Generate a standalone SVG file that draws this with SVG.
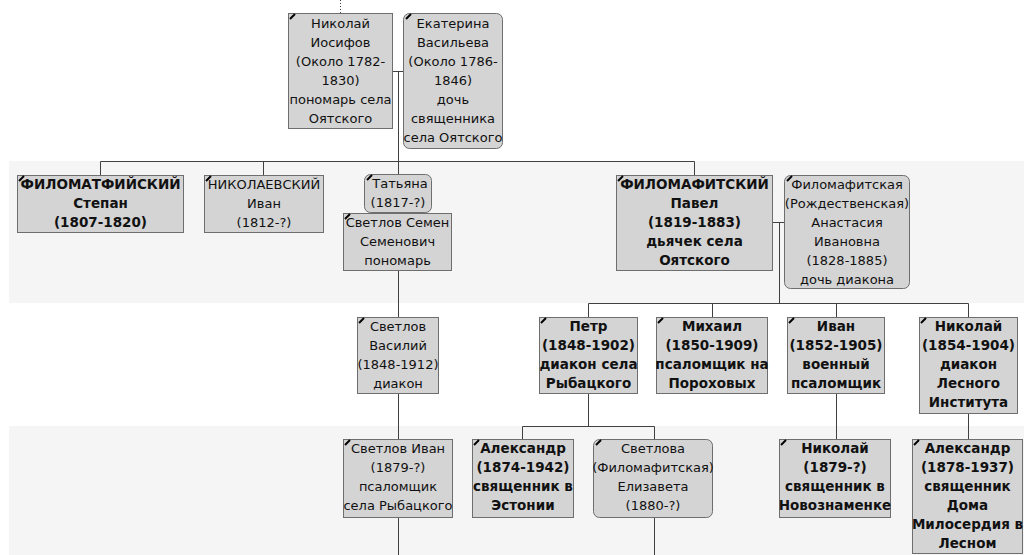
<svg xmlns="http://www.w3.org/2000/svg" width="1024" height="555" viewBox="0 0 1024 555">
<style>
.band{fill:#f5f5f5}
.box{fill:#d4d4d4;stroke:#6e6e6e;stroke-width:1}
.mk{stroke:#000;stroke-width:2;stroke-linecap:butt}
.t{font-family:"DejaVu Sans","Liberation Sans",sans-serif;font-size:13px;fill:#111;text-anchor:middle}
.b{font-weight:bold;font-size:13.5px}
.c{stroke:#404040;stroke-width:1;fill:none}
</style>
<rect width="1024" height="555" fill="#fff"/>
<rect class="band" x="9" y="161" width="1015" height="142"/>
<rect class="band" x="9" y="426" width="1015" height="129"/>
<g id="connectors">
<line class="c" x1="340.5" y1="0" x2="340.5" y2="13" stroke-dasharray="1,2"/>
<path class="c" d="M392 71.5H403M398.5 71.5V161.5M100.5 161.5H694.5M100.5 161.5V175M263.5 161.5V175M398.5 161.5V174M694.5 161.5V175"/>
<path class="c" d="M398.5 270V317M772 222.5H784M779.5 222.5V303.5M588.5 303.5H968.5M588.5 303.5V317M712.5 303.5V317M836.5 303.5V317M968.5 303.5V317"/>
<path class="c" d="M398.5 393V439M398.5 517V555M588.5 393V426.5M522.5 426.5H654.5M522.5 426.5V439M654.5 426.5V439M654.5 517V555M836.5 393V439M968.5 413V439"/>
</g>
<g id="n1"><rect class="box" x="288.5" y="13.5" width="104" height="115"/><path class="mk" d="M290 19L295 14"/>
<text class="t" x="340.5" y="28">Николай<tspan x="340.5" dy="19">Иосифов</tspan><tspan x="340.5" dy="19">(Около 1782-</tspan><tspan x="340.5" dy="19">1830)</tspan><tspan x="340.5" dy="19">пономарь села</tspan><tspan x="340.5" dy="19">Оятского</tspan></text></g>
<g id="n2"><rect class="box" x="403.5" y="13.5" width="99" height="135" rx="6"/><path class="mk" d="M406 19L411 14"/>
<text class="t" x="453" y="28">Екатерина<tspan x="453" dy="19">Васильева</tspan><tspan x="453" dy="19">(Около 1786-</tspan><tspan x="453" dy="19">1846)</tspan><tspan x="453" dy="19">дочь</tspan><tspan x="453" dy="19">священника</tspan><tspan x="453" dy="19">села Оятского</tspan></text></g>
<g id="n3"><rect class="box" x="17.5" y="175.5" width="166" height="57"/><path class="mk" d="M19 181L24 176"/>
<text class="t b" x="100.5" y="189">ФИЛОМАТФИЙСКИЙ<tspan x="100.5" dy="19">Степан</tspan><tspan x="100.5" dy="19">(1807-1820)</tspan></text></g>
<g id="n4"><rect class="box" x="204.5" y="175.5" width="119" height="57"/><path class="mk" d="M206 181L211 176"/>
<text class="t" x="264" y="189">НИКОЛАЕВСКИЙ<tspan x="264" dy="19">Иван</tspan><tspan x="264" dy="19">(1812-?)</tspan></text></g>
<g id="n5"><rect class="box" x="364.5" y="174.5" width="67" height="38" rx="6"/><path class="mk" d="M367 180L372 175"/>
<text class="t" x="400" y="188">Татьяна<tspan x="398" dy="19">(1817-?)</tspan></text></g>
<g id="n6"><rect class="box" x="343.5" y="213.5" width="108" height="57"/><path class="mk" d="M345 219L350 214"/>
<text class="t" x="397.5" y="227">Светлов Семен<tspan x="397.5" dy="19">Семенович</tspan><tspan x="397.5" dy="19">пономарь</tspan></text></g>
<g id="n7"><rect class="box" x="616.5" y="175.5" width="156" height="95"/><path class="mk" d="M618 181L623 176"/>
<text class="t b" x="694.5" y="189">ФИЛОМАФИТСКИЙ<tspan x="694.5" dy="19">Павел</tspan><tspan x="694.5" dy="19">(1819-1883)</tspan><tspan x="694.5" dy="19">дьячек села</tspan><tspan x="694.5" dy="19">Оятского</tspan></text></g>
<g id="n8"><rect class="box" x="784.5" y="175.5" width="125" height="113" rx="6"/><path class="mk" d="M787 181L792 176"/>
<text class="t" x="847" y="189">Филомафитская<tspan x="847" dy="19">(Рождественская)</tspan><tspan x="847" dy="19">Анастасия</tspan><tspan x="847" dy="19">Ивановна</tspan><tspan x="847" dy="19">(1828-1885)</tspan><tspan x="847" dy="19">дочь диакона</tspan></text></g>
<g id="n9"><rect class="box" x="357.5" y="317.5" width="81" height="76"/><path class="mk" d="M359 323L364 318"/>
<text class="t" x="398" y="331">Светлов<tspan x="398" dy="19">Василий</tspan><tspan x="398" dy="19">(1848-1912)</tspan><tspan x="398" dy="19">диакон</tspan></text></g>
<g id="n10"><rect class="box" x="539.5" y="317.5" width="98" height="76"/><path class="mk" d="M541 323L546 318"/>
<text class="t b" x="588.5" y="331">Петр<tspan x="588.5" dy="19">(1848-1902)</tspan><tspan x="588.5" dy="19">диакон села</tspan><tspan x="588.5" dy="19">Рыбацкого</tspan></text></g>
<g id="n11"><rect class="box" x="656.5" y="317.5" width="111" height="76"/><path class="mk" d="M658 323L663 318"/>
<text class="t b" x="712" y="331">Михаил<tspan x="712" dy="19">(1850-1909)</tspan><tspan x="712" dy="19">псаломщик на</tspan><tspan x="712" dy="19">Пороховых</tspan></text></g>
<g id="n12"><rect class="box" x="787.5" y="317.5" width="97" height="76"/><path class="mk" d="M789 323L794 318"/>
<text class="t b" x="836" y="331">Иван<tspan x="836" dy="19">(1852-1905)</tspan><tspan x="836" dy="19">военный</tspan><tspan x="836" dy="19">псаломщик</tspan></text></g>
<g id="n13"><rect class="box" x="919.5" y="317.5" width="98" height="96"/><path class="mk" d="M921 323L926 318"/>
<text class="t b" x="968.5" y="331">Николай<tspan x="968.5" dy="19">(1854-1904)</tspan><tspan x="968.5" dy="19">диакон</tspan><tspan x="968.5" dy="19">Лесного</tspan><tspan x="968.5" dy="19">Института</tspan></text></g>
<g id="n14"><rect class="box" x="343.5" y="439.5" width="109" height="78"/><path class="mk" d="M345 445L350 440"/>
<text class="t" x="398" y="453">Светлов Иван<tspan x="398" dy="19">(1879-?)</tspan><tspan x="398" dy="19">псаломщик</tspan><tspan x="398" dy="19">села Рыбацкого</tspan></text></g>
<g id="n15"><rect class="box" x="472.5" y="439.5" width="101" height="78"/><path class="mk" d="M474 445L479 440"/>
<text class="t b" x="523" y="453">Александр<tspan x="523" dy="19">(1874-1942)</tspan><tspan x="523" dy="19">священник в</tspan><tspan x="523" dy="19">Эстонии</tspan></text></g>
<g id="n16"><rect class="box" x="593.5" y="439.5" width="119" height="78" rx="6"/><path class="mk" d="M596 445L601 440"/>
<text class="t" x="653" y="453">Светлова<tspan x="653" dy="19">(Филомафитская)</tspan><tspan x="653" dy="19">Елизавета</tspan><tspan x="653" dy="19">(1880-?)</tspan></text></g>
<g id="n17"><rect class="box" x="779.5" y="439.5" width="111" height="78"/><path class="mk" d="M781 445L786 440"/>
<text class="t b" x="835" y="453">Николай<tspan x="835" dy="19">(1879-?)</tspan><tspan x="835" dy="19">священник в</tspan><tspan x="835" dy="19">Новознаменке</tspan></text></g>
<g id="n18"><rect class="box" x="912.5" y="439.5" width="110" height="114"/><path class="mk" d="M914 445L919 440"/>
<text class="t b" x="967.5" y="453">Александр<tspan x="967.5" dy="19">(1878-1937)</tspan><tspan x="967.5" dy="19">священник</tspan><tspan x="967.5" dy="19">Дома</tspan><tspan x="967.5" dy="19">Милосердия в</tspan><tspan x="967.5" dy="19">Лесном</tspan></text></g>
</svg>
